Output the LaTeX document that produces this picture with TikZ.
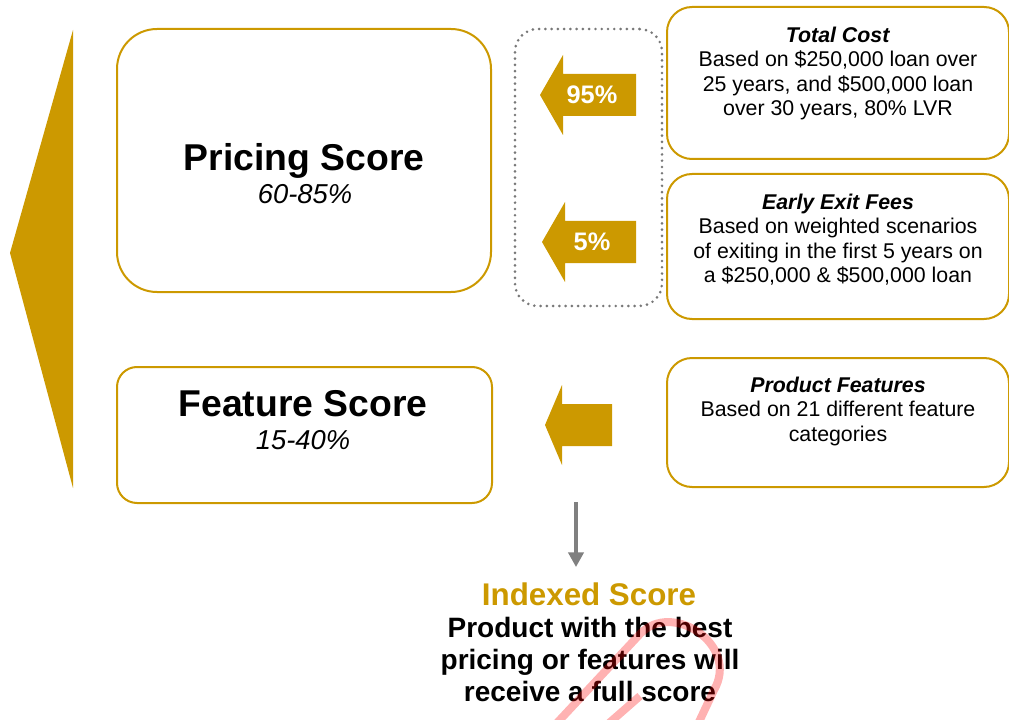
\documentclass[tikz,border=0pt]{standalone}
\usepackage{fontspec}
\setmainfont{Liberation Sans}
\usetikzlibrary{positioning,arrows.meta}
\definecolor{gold}{RGB}{204,153,0}
\definecolor{dotgray}{RGB}{120,120,120}
\def\infofont{\fontsize{16}{18.4}\selectfont}
\def\scorefont{\fontsize{28}{33}\selectfont\bfseries}
\def\rangefont{\fontsize{20.5}{24}\selectfont\itshape}

\begin{document}
\begin{tikzpicture}[x=0.75pt,y=-0.75pt,
		box/.style={draw=gold, line width=1.5pt, inner sep=0pt},
		info/.style={align=center, font=\infofont, inner sep=0pt},
		pct/.style={text=white, font=\fontsize{19}{22}\selectfont\bfseries}]
				\useasboundingbox (0,0) rectangle (1009,720);
				% big pointer on the left
				\fill[gold] (73,30) -- (10,253) -- (73,488) -- cycle;
				% score boxes
				\node[box, rounded corners=30pt, minimum width=280.5pt, minimum height=197.25pt] (pricing) at (304,160.5) {};
				\node[box, rounded corners=15pt, minimum width=281.25pt, minimum height=102pt] (feature) at (304.5,435) {};
				\node[font=\scorefont, anchor=base] (ptitle) at (304,171) {Pricing Score};
				\node[font=\rangefont, anchor=base] (prange) at (305,204) {60-85\%};
				\node[font=\scorefont, anchor=base] (ftitle) at (303,416) {Feature Score};
				\node[font=\rangefont, anchor=base] (frange) at (303,449) {15-40\%};
				% weights
				\node[draw=dotgray, line width=2.2pt, dash pattern=on 0pt off 4.7pt, line cap=round, rounded corners=17pt,
					minimum width=110.25pt, minimum height=207.75pt] (weights) at (588.5,167.5) {};
				\foreach \tx/\ty/\hx/\rx in {540/95/563/636, 542/242/565/636, 545/425/562/612}
					\fill[gold] (\tx,\ty) -- (\hx,\ty-40) -- (\hx,\ty-21) -- (\rx,\ty-21)
						-- (\rx,\ty+21) -- (\hx,\ty+21) -- (\hx,\ty+40) -- cycle;
				\node[pct, anchor=base] (p95) at (592,104) {95\%};
				\node[pct, anchor=base] (p5) at (592,251) {5\%};
				% inputs
				\node[box, rounded corners=18.75pt, minimum width=256.5pt, minimum height=114pt] (cost) at (838,83) {};
				\node[box, rounded corners=18.75pt, minimum width=256.5pt, minimum height=108.75pt] (exit) at (838,246.5) {};
				\node[box, rounded corners=18.75pt, minimum width=256.5pt, minimum height=96.75pt] (prodfeat) at (838,422.5) {};
				\node[info, below=15.5pt of cost.north] (costtxt) {\textbf{\textit{Total Cost}}\\Based on \$250,000 loan over\\25 years, and \$500,000 loan\\over 30 years, 80\% LVR};
				\node[info, below=15.5pt of exit.north] (exittxt) {\textbf{\textit{Early Exit Fees}}\\Based on weighted scenarios\\of exiting in the first 5 years on\\a \$250,000 \& \$500,000 loan};
				\node[info, below=14.5pt of prodfeat.north] (feattxt) {\textbf{\textit{Product Features}}\\Based on 21 different feature\\categories};
				% result
				\coordinate (dtop) at (576,502);
				\coordinate (dbot) at (576,567);
				\draw[black!50, line width=2.4pt, -{Triangle[width=11.5pt,length=11pt]}] (dtop) -- (dbot);
				\node[font=\fontsize{23.5}{27}\selectfont\bfseries, text=gold, anchor=base] (indexed) at (589,605) {Indexed Score};
				\node[align=center, font=\fontsize{21}{24}\selectfont\bfseries, inner sep=0pt, anchor=north] (verdict) at (590,617)
					{Product with the best\\pricing or features will\\receive a full score};
				% stamp
				\draw[red, opacity=0.3, line width=6pt] (556,724) -- (640,634) .. controls (672,600) and (740,645) .. (714,690) -- (698,724);
				\draw[red, opacity=0.3, line width=6pt] (608,724) -- (640,696);
			\end{tikzpicture}
\end{document}
